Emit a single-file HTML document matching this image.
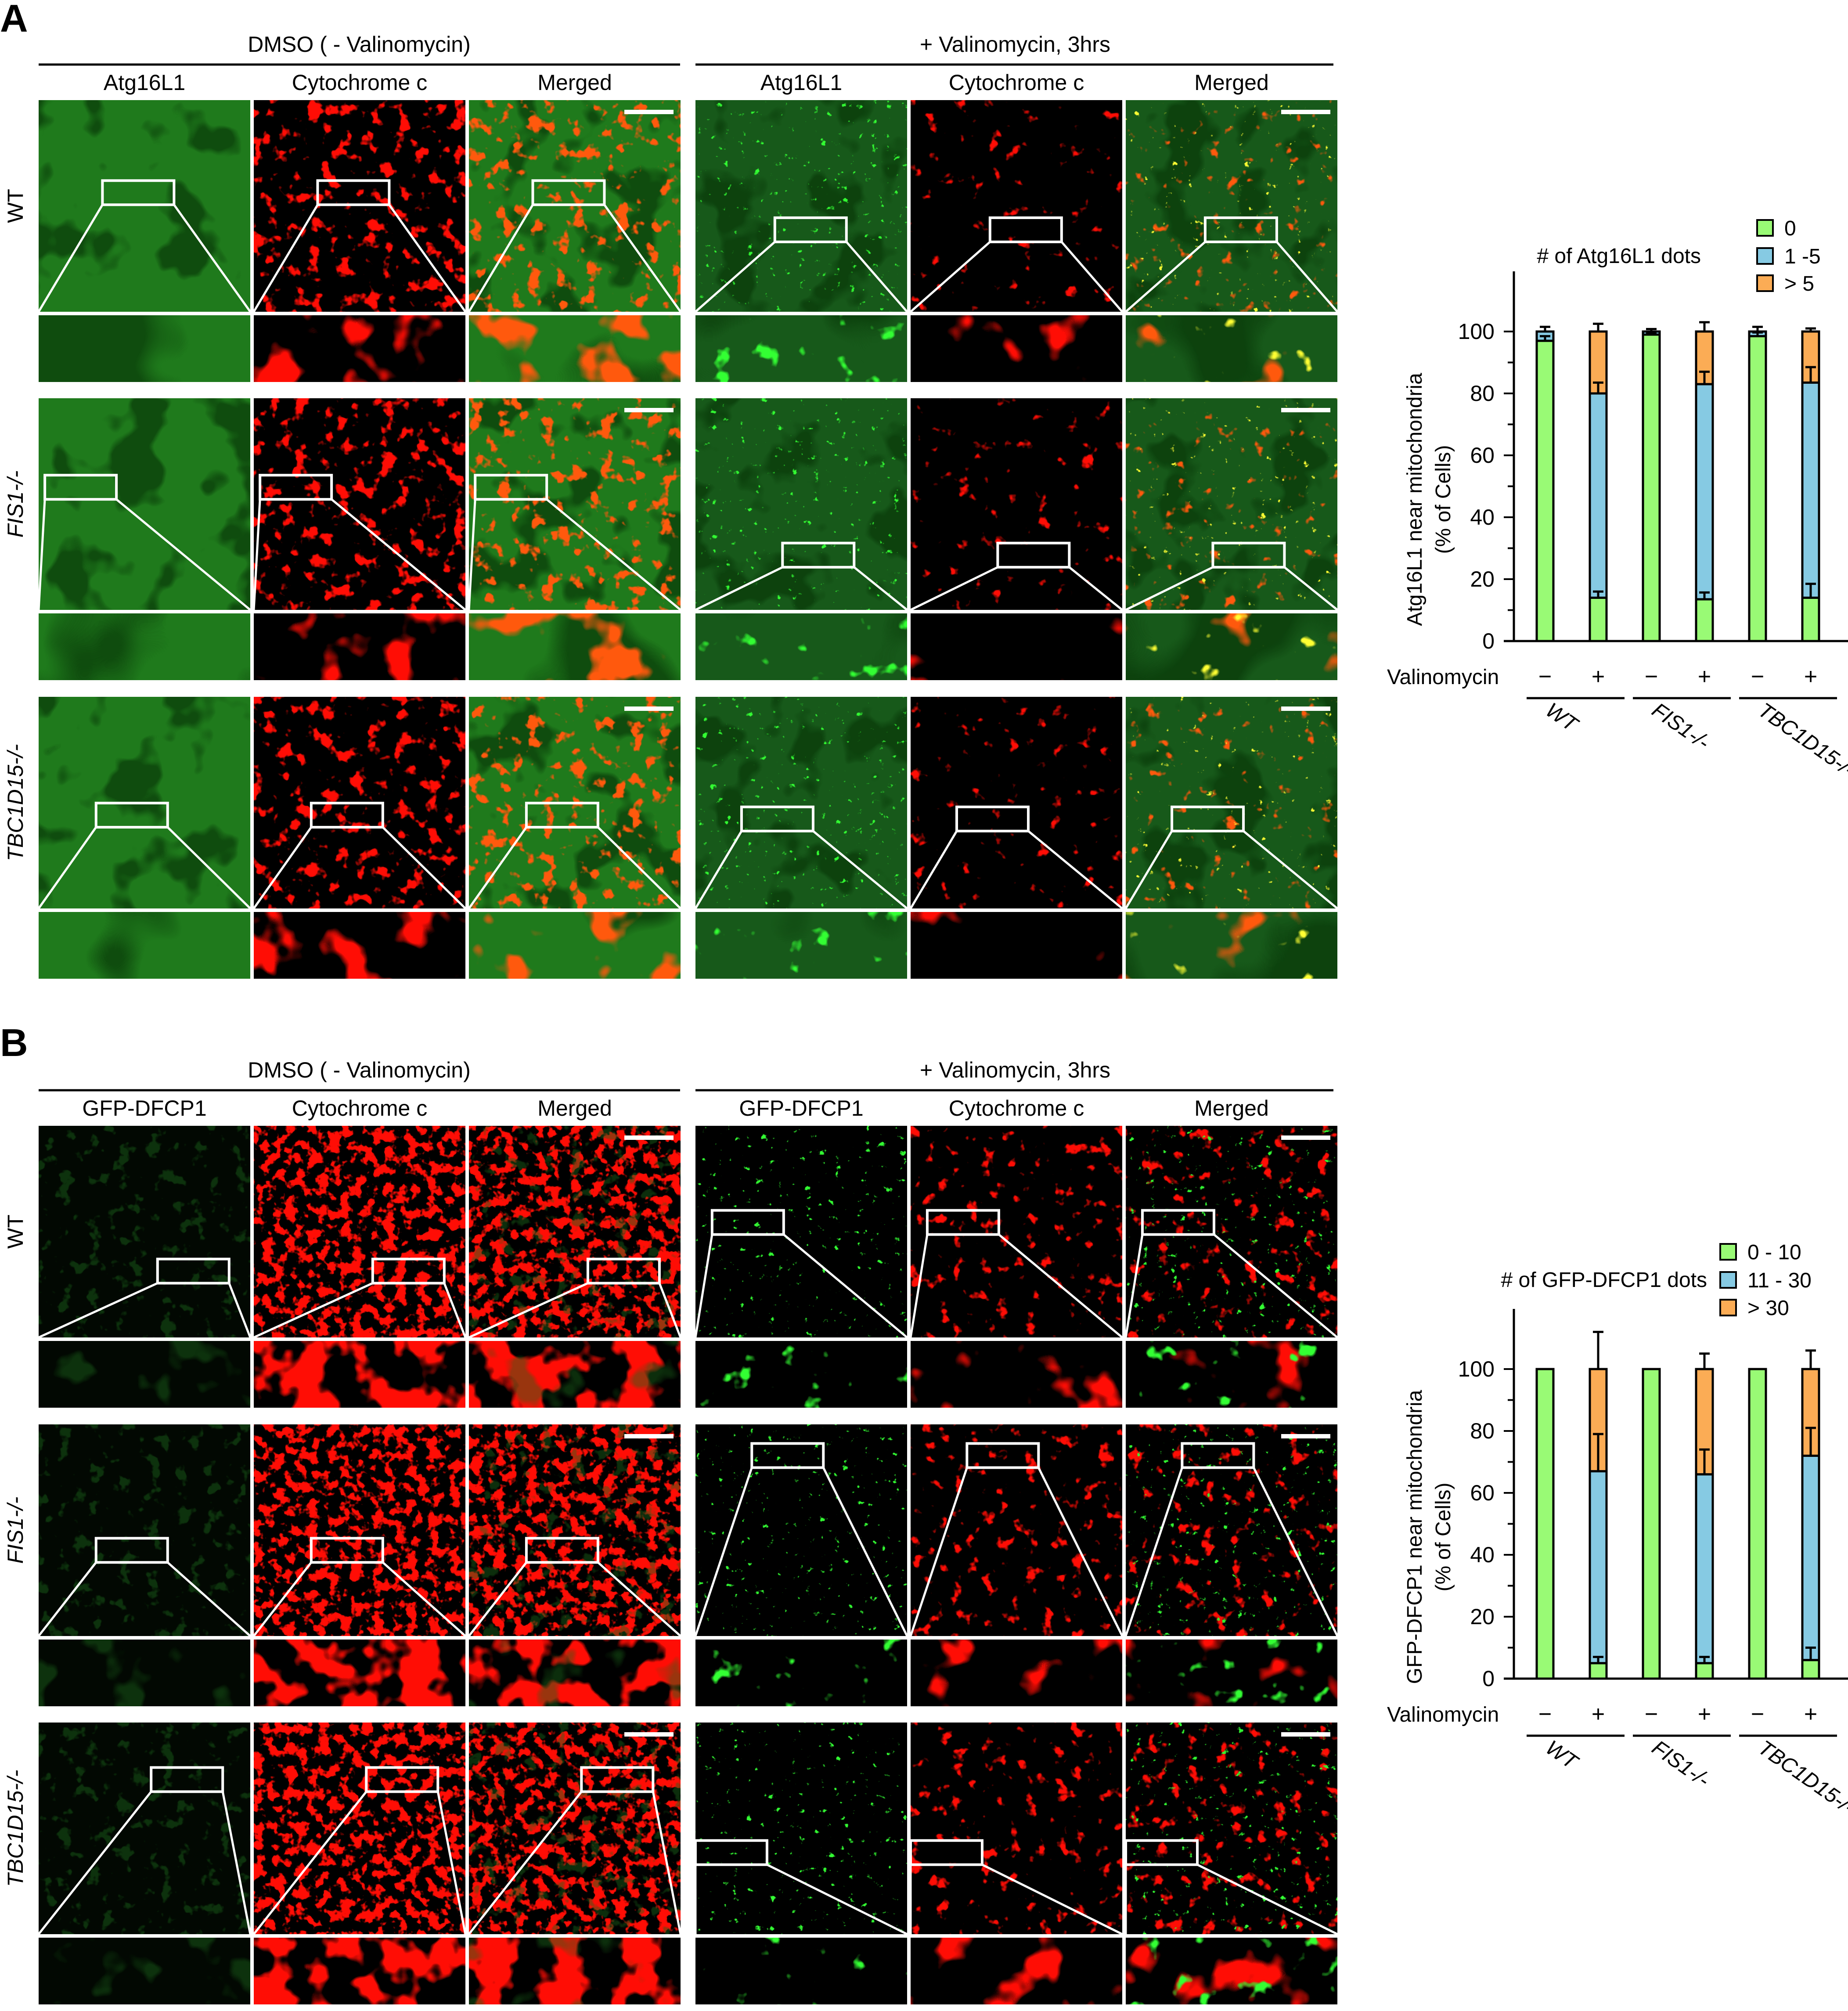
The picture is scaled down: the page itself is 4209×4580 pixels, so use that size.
<!DOCTYPE html>
<html><head><meta charset="utf-8">
<style>
html,body{margin:0;padding:0;background:#fff;}
svg{display:block;}
text{font-family:"Liberation Sans",sans-serif;fill:#000;}
.hd{font-family:"Liberation Sans Narrow","Liberation Sans",sans-serif;font-size:50px;}
</style></head>
<body>
<svg id="fig" width="4209" height="4580" viewBox="0 0 4209 4580" xmlns="http://www.w3.org/2000/svg">
<defs id="defs"></defs>
<g id="panels"></g>
<g id="labels"></g>
<g id="chartA"></g>
<g id="chartB"></g>
</svg>
<script>
// ---------- chart data ----------
const groups = ['WT', 'FIS1-/-', 'TBC1D15-/-'];
const valino = ['−', '+', '−', '+', '−', '+'];
const ticks = [0, 20, 40, 60, 80, 100];
// Chart A (Atg16L1 dots): segment heights
const a0 = [97, 14, 99, 13.5, 98.5, 14];
const a1 = [3, 66, 1, 69.5, 1.5, 69.5];
const a2 = [0, 20, 0, 17, 0, 16.5];
const aErr0 = [1.5, 2, 0.5, 2.2, 1.2, 4.5];
const aErr1 = [1.5, 3.5, 0.8, 4, 1.5, 5];
const aErr2 = [0, 2.5, 0, 3, 0, 1];
const aLegend = ['0', '1 -5', '> 5'];
// Chart B (GFP-DFCP1 dots)
const b0 = [100, 5, 100, 5, 100, 6];
const b1 = [0, 62, 0, 61, 0, 66];
const b2 = [0, 33, 0, 34, 0, 28];
const bErr0 = [0, 2, 0, 2, 0, 4];
const bErr1 = [0, 12, 0, 8, 0, 9];
const bErr2 = [0, 12, 0, 5, 0, 6];
const bLegend = ['0 - 10', '11 - 30', '> 30'];

const NS = 'http://www.w3.org/2000/svg';
function mk(parent, tag, attrs, txt) {
  const e = document.createElementNS(NS, tag);
  for (const k in attrs) e.setAttribute(k, attrs[k]);
  if (txt !== undefined) e.textContent = txt;
  parent.appendChild(e);
  return e;
}
const defs = document.getElementById('defs');
function filt(id, freq, seed, rgb, t, slope, amax) {
  const f = mk(defs, 'filter', {id: id, x: '0', y: '0', width: '1', height: '1', 'color-interpolation-filters': 'sRGB'});
  mk(f, 'feTurbulence', {type: 'fractalNoise', baseFrequency: freq, numOctaves: 3, seed: seed, result: 'n'});
  mk(f, 'feColorMatrix', {in: 'n', type: 'matrix', result: 'c',
    values: `0 0 0 0 ${rgb[0]}  0 0 0 0 ${rgb[1]}  0 0 0 0 ${rgb[2]}  ${slope} 0 0 0 ${-slope * t}`});
  mk(f, 'feComponentTransfer', {in: 'c', result: 'd'}).appendChild((() => {
    const fa = document.createElementNS(NS, 'feFuncA');
    fa.setAttribute('type', 'linear'); fa.setAttribute('slope', amax); fa.setAttribute('intercept', 0);
    return fa;
  })());
  mk(f, 'feComposite', {in: 'd', in2: 'SourceGraphic', operator: 'in'});
}
const R = [1, 0.05, 0.02], O = [1, 0.35, 0.05], G = [0.2, 1, 0.2], DG = [0.03, 0.22, 0.03], FG = [0.1, 0.4, 0.1], Y = [1, 1, 0.2];
const spec = {
  // [freq, seed, color, threshold, alphaMax]
  redDense: [0.03, 3, R, 0.58, 1], redSparse: [0.028, 7, R, 0.68, 1],
  orDense: [0.03, 3, O, 0.59, 1], orSparse: [0.028, 7, O, 0.68, 1],
  greenDots: [0.06, 11, G, 0.72, 1], greenFaint: [0.03, 13, FG, 0.6, 0.45], darkPatch: [0.008, 17, DG, 0.55, 0.7],
  yDots: [0.06, 19, Y, 0.74, 1], redBDense: [0.04, 23, R, 0.5, 1], redBMed: [0.03, 29, R, 0.63, 1]
};
for (const k in spec) {
  const s = spec[k];
  filt(k, s[0], s[1], s[2], s[3], 10, s[4]);
  filt(k + 'T', s[0] * 0.3, s[1], s[2], s[3] - 0.03, 10, s[4]);
}
const layers = {
  gA: ['#1f7a1c', ['darkPatch']],
  rA: ['#000', ['redDense']],
  mA: ['#1f7a1c', ['darkPatch', 'orDense']],
  gAv: ['#17591a', ['darkPatch', 'greenDots']],
  rAv: ['#000', ['redSparse']],
  mAv: ['#17591a', ['darkPatch', 'orSparse', 'yDots']],
  gB: ['#020802', ['greenFaint']],
  rB: ['#000', ['redBDense']],
  mB: ['#000', ['redBDense', 'greenFaint']],
  gBv: ['#000', ['greenDots']],
  rBv: ['#000', ['redBMed']],
  mBv: ['#000', ['redBMed', 'greenDots']]
};
const colX = [88, 578, 1068, 1584, 2074, 2564];
const PW = 482, PH = 482, TH = 152;
const rowY = [228, 907, 1587, 2564, 3244, 3923];
const typesA = ['gA', 'rA', 'mA', 'gAv', 'rAv', 'mAv'];
const typesB = ['gB', 'rB', 'mB', 'gBv', 'rBv', 'mBv'];
const boxes = [
  [[80,141],[248,141],[416,141],[605,170],[773,170],[941,170]],
  [[35,371],[203,371],[371,371],[611,424],[779,424],[947,424]],
  [[75,627],[243,627],[411,627],[579,630],[747,630],[915,630]],
  [[123,983],[291,983],[459,983],[556,945],[724,945],[892,945]],
  [[75,1201],[243,1201],[411,1201],[587,1127],[755,1127],[923,1127]],
  [[118,1380],[286,1380],[454,1380],[543,1437],[711,1437],[879,1437]]
];
const SC = 2.917;
const P = document.getElementById('panels');
for (let r = 0; r < 6; r++) {
  for (let c = 0; c < 6; c++) {
    const t = (r < 3 ? typesA : typesB)[c];
    const x = colX[c], y = rowY[r];
    const g = mk(P, 'g', {});
    
    
    const L = layers[t];
    mk(g, 'rect', {x: x, y: y, width: PW, height: PH, fill: L[0]});
    L[1].forEach(f => mk(g, 'rect', {x: x, y: y, width: PW, height: PH, fill: '#fff', filter: 'url(#' + f + ')'}));
    const ty = y + PH + 8;
    mk(g, 'rect', {x: x, y: ty, width: PW, height: TH, fill: L[0]});
    L[1].forEach(f => mk(g, 'rect', {x: x, y: ty, width: PW, height: TH, fill: '#fff', filter: 'url(#' + f + 'T)'}));
    const bx = boxes[r][c][0] * SC, by = boxes[r][c][1] * SC, bw = 163, bh = 55;
    mk(g, 'rect', {x: bx, y: by, width: bw, height: bh, fill: 'none', stroke: '#fff', 'stroke-width': 6});
    mk(g, 'line', {x1: bx, y1: by + bh, x2: x, y2: y + PH, stroke: '#fff', 'stroke-width': 5});
    mk(g, 'line', {x1: bx + bw, y1: by + bh, x2: x + PW, y2: y + PH, stroke: '#fff', 'stroke-width': 5});
    if (c === 2 || c === 5) {
      const sb = mk(g, 'rect', {x: x + PW - 128, y: y + 22, width: 112, height: 10, fill: '#fff'});
      
      
    }
  }
}
const Lb = document.getElementById('labels');
function txt(parent, name, x, y, s, attrs) {
  const e = mk(parent, 'text', Object.assign({x: x, y: y}, attrs || {}), s);
  
  
  return e;
}
txt(Lb, 'panel-letter-a', 0, 72, 'A', {'font-size': 88, 'font-weight': 'bold'});
txt(Lb, 'panel-letter-b', 0, 2405, 'B', {'font-size': 88, 'font-weight': 'bold'});
[[0, 'DMSO ( - Valinomycin)', '+ Valinomycin, 3hrs', ['Atg16L1', 'Cytochrome c', 'Merged']],
 [2336, 'DMSO ( - Valinomycin)', '+ Valinomycin, 3hrs', ['GFP-DFCP1', 'Cytochrome c', 'Merged']]].forEach(h => {
  const oy = h[0];
  txt(Lb, 'condition-header-dmso', 818, 118 + oy, h[1], {'text-anchor': 'middle', class: 'hd'});
  txt(Lb, 'condition-header-valinomycin', 2312, 118 + oy, h[2], {'text-anchor': 'middle', class: 'hd'});
  mk(Lb, 'line', {x1: 88, y1: 147 + oy, x2: 1549, y2: 147 + oy, stroke: '#000', 'stroke-width': 5});
  mk(Lb, 'line', {x1: 1584, y1: 147 + oy, x2: 3037, y2: 147 + oy, stroke: '#000', 'stroke-width': 5});
  for (let c = 0; c < 6; c++) txt(Lb, 'column-label', colX[c] + PW / 2, 205 + oy, h[3][c % 3], {'text-anchor': 'middle', class: 'hd'});
});
const rowNames = ['WT', 'FIS1-/-', 'TBC1D15-/-'];
for (let r = 0; r < 6; r++) {
  const cy = rowY[r] + PH / 2, name = rowNames[r % 3];
  txt(Lb, 'row-label', 52, cy, name, {'text-anchor': 'middle', class: 'hd', 'font-style': r % 3 ? 'italic' : 'normal',
    transform: `rotate(-90 52 ${cy})`});
}

// ---------- charts ----------
function drawChart(id, oy, s0, s1, s2, e0, e1, e2, legend, title, ytitle) {
  const C = document.getElementById(id);
  const axX = 3448, y0 = 1460 + oy, yTop = 618 + oy;
  const ppu = 7.05;
  const yS = v => y0 - v * ppu;
  const xS = i => 3519 + i * 121;
  const bw = 38;
  mk(C, 'line', {x1: axX, y1: yTop, x2: axX, y2: y0, stroke: '#000', 'stroke-width': 5});
  mk(C, 'line', {x1: 3425, y1: y0, x2: 4209, y2: y0, stroke: '#000', 'stroke-width': 5});
  for (let v = 10; v <= 100; v += 10) mk(C, 'line', {x1: v % 20 ? 3434 : 3425, y1: yS(v), x2: axX, y2: yS(v), stroke: '#000', 'stroke-width': 4});
  ticks.forEach(v => txt(C, 'y-tick-label', 3404, yS(v) + 17, String(v), {'text-anchor': 'end', 'font-size': 50}));
  const yc = yS(50) + 30;
  txt(C, 'y-axis-title', 3238, yc, ytitle, {'text-anchor': 'middle', 'font-size': 48, transform: `rotate(-90 3238 ${yc})`});
  txt(C, 'y-axis-title-unit', 3303, yc, '(% of Cells)', {'text-anchor': 'middle', 'font-size': 48, transform: `rotate(-90 3303 ${yc})`});
  const cols = ['#99fa75', '#86cae3', '#fbac55'];
  const series = [s0, s1, s2], errs = [e0, e1, e2];
  for (let i = 0; i < s0.length; i++) {
    let base = 0;
    const tops = [];
    for (let k = 0; k < 3; k++) {
      const h = series[k][i];
      if (h <= 0) continue;
      const top = base + h;
      const b = mk(C, 'rect', {x: xS(i) - bw / 2, y: yS(top), width: bw, height: yS(base) - yS(top), fill: cols[k], stroke: '#000', 'stroke-width': 5});
      
      
      tops.push([top, errs[k][i]]);
      base = top;
    }
    tops.forEach(([top, e]) => {
      if (e > 0) {
        mk(C, 'line', {x1: xS(i), y1: yS(top), x2: xS(i), y2: yS(top + e), stroke: '#000', 'stroke-width': 5});
        mk(C, 'line', {x1: xS(i) - 12, y1: yS(top + e), x2: xS(i) + 12, y2: yS(top + e), stroke: '#000', 'stroke-width': 5});
      }
    });
    txt(C, 'valinomycin-sign', xS(i), y0 + 98, valino[i], {'text-anchor': 'middle', 'font-size': 52});
  }
  txt(C, 'valinomycin-label', 3159, y0 + 98, 'Valinomycin', {'font-size': 48});
  groups.forEach((g, j) => {
    const x1 = xS(2 * j) - 42, x2 = xS(2 * j + 1) + 60;
    mk(C, 'line', {x1: x1, y1: y0 + 130, x2: x2, y2: y0 + 130, stroke: '#000', 'stroke-width': 5});
    const lx = x1 + 40, ly = y0 + 165;
    txt(C, 'group-label', lx, ly, g, {'font-size': 48, 'font-style': 'italic', transform: `rotate(35 ${lx} ${ly})`});
  });
  const titleRight = id === 'chartA' ? 3874 : 3888;
  txt(C, 'legend-title', titleRight, legend.ly[1] + 16, title, {'text-anchor': 'end', 'font-size': 48});
  legend.names.forEach((n, k) => {
    const ly = legend.ly[k];
    const sq = mk(C, 'rect', {x: legend.x, y: ly - 18, width: 36, height: 36, fill: cols[k], stroke: '#000', 'stroke-width': 4});
    
    
    txt(C, 'legend-entry', legend.x + 62, ly + 17, n, {'font-size': 48});
  });
}
drawChart('chartA', 0, a0, a1, a2, aErr0, aErr1, aErr2, {names: aLegend, x: 4002, ly: [519, 583, 645]}, '# of Atg16L1 dots', 'Atg16L1 near mitochondria');
drawChart('chartB', 2363, b0, b1, b2, bErr0, bErr1, bErr2, {names: bLegend, x: 3918, ly: [2851, 2915, 2978]}, '# of GFP-DFCP1 dots', 'GFP-DFCP1 near mitochondria');
</script>
</body></html>
